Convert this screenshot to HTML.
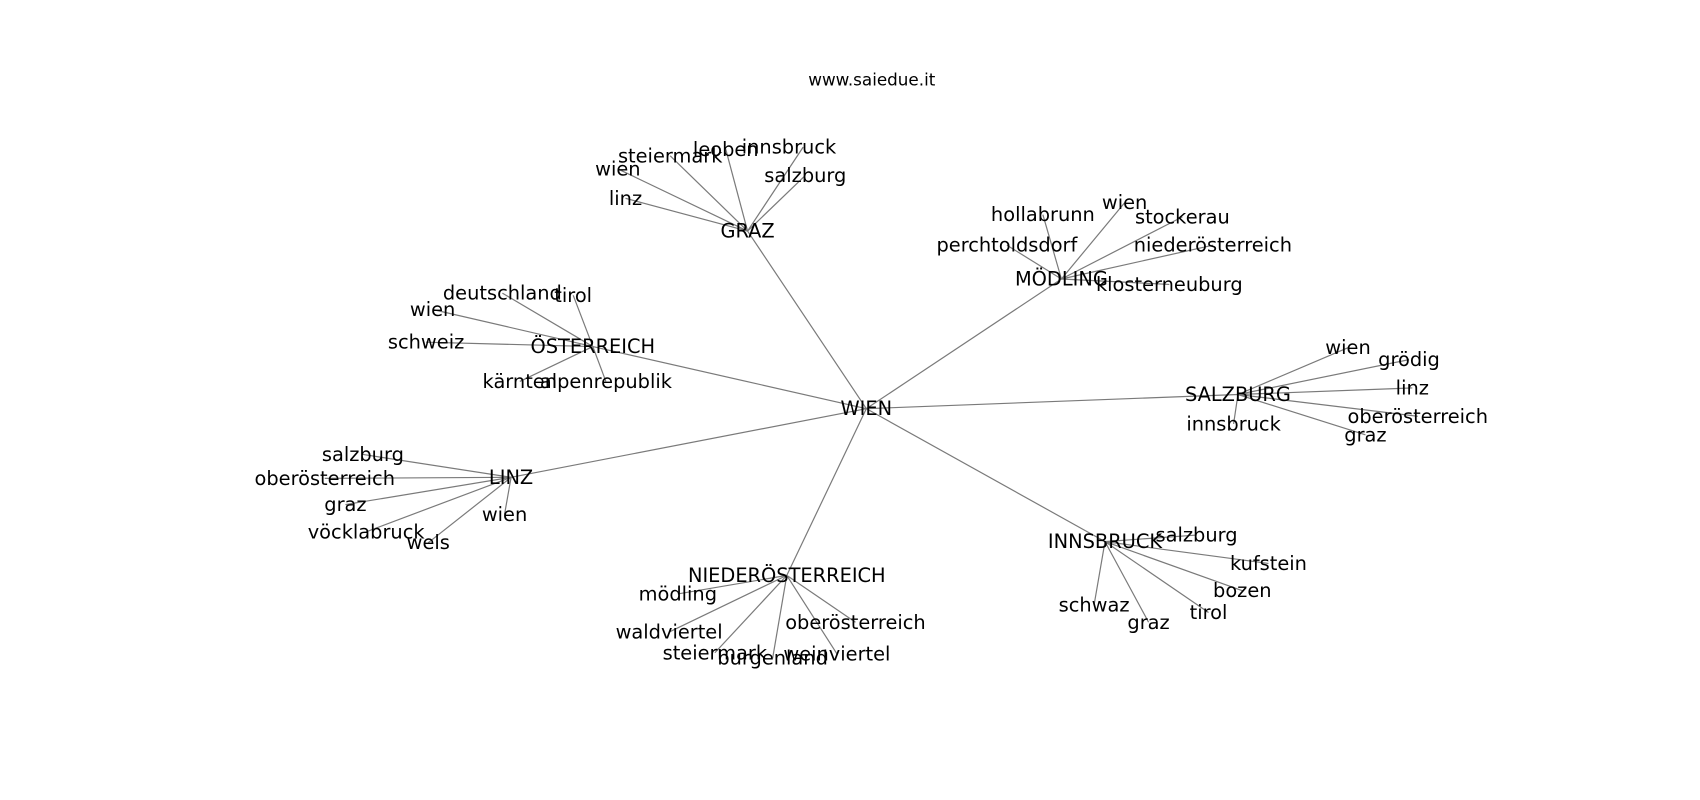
<!DOCTYPE html>
<html><head><meta charset="utf-8"><style>
html,body{margin:0;padding:0;background:#fff;width:1700px;height:800px;overflow:hidden}
svg text{font-family:"DejaVu Sans","Liberation Sans",sans-serif;font-size:17.8px;fill:#000;text-anchor:middle;dominant-baseline:central}
svg line{stroke:#7a7a7a;stroke-width:1.1}
</style></head><body>
<svg width="1700" height="800" viewBox="0 0 1560 734.1" xmlns="http://www.w3.org/2000/svg">
<g transform="translate(-3,-2)">
<g>
<line x1="798" y1="377" x2="689" y2="214"/>
<line x1="798" y1="377" x2="977" y2="258"/>
<line x1="798" y1="377" x2="547" y2="320"/>
<line x1="798" y1="377" x2="1139" y2="364"/>
<line x1="798" y1="377" x2="472" y2="440"/>
<line x1="798" y1="377" x2="1017" y2="499"/>
<line x1="798" y1="377" x2="725" y2="530"/>

<line x1="689" y1="214" x2="618" y2="145"/>
<line x1="689" y1="214" x2="669" y2="139"/>
<line x1="689" y1="214" x2="740" y2="137"/>
<line x1="689" y1="214" x2="570" y2="157"/>
<line x1="689" y1="214" x2="742" y2="163"/>
<line x1="689" y1="214" x2="577" y2="184"/>

<line x1="977" y1="258" x2="960" y2="199"/>
<line x1="977" y1="258" x2="1035" y2="188"/>
<line x1="977" y1="258" x2="1088" y2="201"/>
<line x1="977" y1="258" x2="927" y2="227"/>
<line x1="977" y1="258" x2="1116" y2="227"/>
<line x1="977" y1="258" x2="1076" y2="263"/>

<line x1="547" y1="320" x2="464" y2="271"/>
<line x1="547" y1="320" x2="529" y2="273"/>
<line x1="547" y1="320" x2="400" y2="286"/>
<line x1="547" y1="320" x2="394" y2="316"/>
<line x1="547" y1="320" x2="480" y2="352"/>
<line x1="547" y1="320" x2="559" y2="352"/>

<line x1="1139" y1="364" x2="1240" y2="321"/>
<line x1="1139" y1="364" x2="1296" y2="332"/>
<line x1="1139" y1="364" x2="1299" y2="358"/>
<line x1="1139" y1="364" x2="1304" y2="384"/>
<line x1="1139" y1="364" x2="1135" y2="391"/>
<line x1="1139" y1="364" x2="1256" y2="401"/>

<line x1="472" y1="440" x2="336" y2="419"/>
<line x1="472" y1="440" x2="301" y2="441"/>
<line x1="472" y1="440" x2="320" y2="465"/>
<line x1="472" y1="440" x2="339" y2="490"/>
<line x1="472" y1="440" x2="396" y2="500"/>
<line x1="472" y1="440" x2="466" y2="474"/>

<line x1="1017" y1="499" x2="1101" y2="493"/>
<line x1="1017" y1="499" x2="1167" y2="519"/>
<line x1="1017" y1="499" x2="1143" y2="544"/>
<line x1="1017" y1="499" x2="1112" y2="564"/>
<line x1="1017" y1="499" x2="1007" y2="557"/>
<line x1="1017" y1="499" x2="1057" y2="573"/>

<line x1="725" y1="530" x2="625" y2="547"/>
<line x1="725" y1="530" x2="617" y2="582"/>
<line x1="725" y1="530" x2="659" y2="601"/>
<line x1="725" y1="530" x2="712" y2="606"/>
<line x1="725" y1="530" x2="788" y2="573"/>
<line x1="725" y1="530" x2="771" y2="602"/>
</g>
<g>
<text x="803" y="75" style="font-size:15.4px">www.saiedue.it</text>
<text x="798" y="377">WIEN</text>
<text x="689" y="214">GRAZ</text>
<text x="977" y="258">MÖDLING</text>
<text x="547" y="320">ÖSTERREICH</text>
<text x="1139" y="364">SALZBURG</text>
<text x="472" y="440">LINZ</text>
<text x="1017" y="499">INNSBRUCK</text>
<text x="725" y="530">NIEDERÖSTERREICH</text>

<text x="618" y="145">steiermark</text>
<text x="669" y="139">leoben</text>
<text x="727" y="137">innsbruck</text>
<text x="570" y="157">wien</text>
<text x="742" y="163">salzburg</text>
<text x="577" y="184">linz</text>

<text x="960" y="199">hollabrunn</text>
<text x="1035" y="188">wien</text>
<text x="1088" y="201">stockerau</text>
<text x="927" y="227">perchtoldsdorf</text>
<text x="1116" y="227">niederösterreich</text>
<text x="1076" y="263">klosterneuburg</text>

<text x="464" y="271">deutschland</text>
<text x="529" y="273">tirol</text>
<text x="400" y="286">wien</text>
<text x="394" y="316">schweiz</text>
<text x="480" y="352">kärnten</text>
<text x="559" y="352">alpenrepublik</text>

<text x="1240" y="321">wien</text>
<text x="1296" y="332">grödig</text>
<text x="1299" y="358">linz</text>
<text x="1304" y="384">oberösterreich</text>
<text x="1135" y="391">innsbruck</text>
<text x="1256" y="401">graz</text>

<text x="336" y="419">salzburg</text>
<text x="301" y="441">oberösterreich</text>
<text x="320" y="465">graz</text>
<text x="339" y="490">vöcklabruck</text>
<text x="396" y="500">wels</text>
<text x="466" y="474">wien</text>

<text x="1101" y="493">salzburg</text>
<text x="1167" y="519">kufstein</text>
<text x="1143" y="544">bozen</text>
<text x="1112" y="564">tirol</text>
<text x="1007" y="557">schwaz</text>
<text x="1057" y="573">graz</text>

<text x="625" y="547">mödling</text>
<text x="617" y="582">waldviertel</text>
<text x="659" y="601">steiermark</text>
<text x="712" y="606">burgenland</text>
<text x="788" y="573">oberösterreich</text>
<text x="771" y="602">weinviertel</text>
</g>
</g>
</svg>
</body></html>
